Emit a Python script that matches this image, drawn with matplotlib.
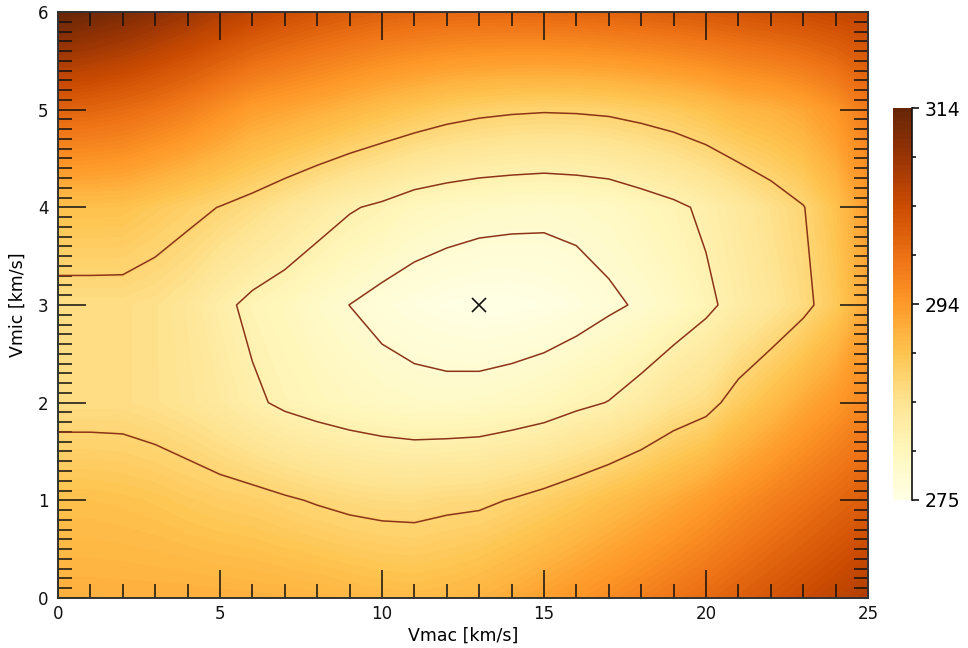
import numpy as np
import matplotlib
matplotlib.use("Agg")
import matplotlib.pyplot as plt
from matplotlib.ticker import MultipleLocator, FixedLocator

# fit grid: macroturbulence (x) and microturbulence (y), km/s
vmac = [0, 1, 2, 3, 4, 5, 6, 7, 8, 9, 10, 11, 12, 13, 14, 15, 16, 17, 18, 19, 20, 21, 22, 23, 24, 25]
vmic = [0, 1, 2, 3, 4, 5, 6]

# chi2 along vmac, one list per vmic row
chi2_vmic0 = [292.0, 292.0, 292.0, 292.0, 292.0, 291.9, 291.8, 291.6, 291.4, 291.0, 290.7, 290.5, 290.8,
              291.5, 292.5, 293.6, 294.8, 296.0, 297.3, 298.7, 300.0, 301.4, 302.8, 304.2, 305.6, 307.0]
chi2_vmic1 = [289.8, 289.8, 289.56, 289.2, 288.6, 288.1, 287.76, 287.15, 286.56, 286.06, 285.76, 285.7, 286.08,
              286.25, 286.95, 287.8, 288.8, 290.0, 291.2, 292.5, 294.0, 295.7, 297.3, 298.8, 300.3, 301.8]
chi2_vmic2 = [285.5, 285.5, 285.5, 285.0, 284.3, 283.2, 281.76, 280.62, 279.9, 279.3, 278.8, 278.43, 278.34,
              278.48, 278.93, 279.49, 280.49, 281.3, 282.7, 284.5, 285.6, 288.2, 290.2, 292.5, 294.5, 296.5]
chi2_vmic3 = [285.5, 285.5, 285.5, 285.0, 283.95, 282.0, 280.43, 279.5, 278.3, 277.28, 276.3, 275.6, 275.1,
              274.8, 274.85, 275.2, 275.8, 276.8, 277.65, 278.9, 280.5, 282.39, 284.0, 285.9, 288.6, 292.8]
chi2_vmic4 = [289.8, 289.8, 289.7, 288.67, 287.7, 286.7, 285.6, 284.2, 282.8, 281.5, 280.64, 279.46, 278.87,
              278.45, 278.22, 278.04, 278.27, 278.66, 279.61, 280.55, 281.8, 283.3, 285.0, 286.65, 289.65, 294.0]
chi2_vmic5 = [301.0, 300.6, 299.9, 298.8, 297.4, 295.6, 293.8, 293.0, 292.1, 291.1, 290.0, 289.1, 288.2,
              287.6, 287.25, 287.07, 287.16, 287.41, 287.97, 288.67, 289.6, 290.9, 291.6, 292.8, 294.8, 298.0]
chi2_vmic6 = [314.0, 313.0, 311.8, 310.3, 308.7, 307.0, 305.4, 304.0, 302.9, 302.0, 301.3, 300.8, 300.5,
              300.4, 300.4, 300.5, 300.7, 301.0, 301.4, 301.9, 302.4, 303.0, 303.6, 304.2, 304.9, 305.6]

# confidence contours and best fit
contour_levels = [277.3, 281.2, 286.8]
best_vmac = 13
best_vmic = 3

chi2 = np.array([chi2_vmic0, chi2_vmic1, chi2_vmic2, chi2_vmic3, chi2_vmic4, chi2_vmic5, chi2_vmic6])
zmin, zmax = chi2.min(), chi2.max()

fig = plt.figure(figsize=(9.68, 6.48), dpi=100)
ax = fig.add_axes([0.0599, 0.0772, 0.8368, 0.9043])

cf = ax.contourf(vmac, vmic, chi2, levels=np.linspace(zmin, zmax, 90), cmap="YlOrBr")
ax.contour(vmac, vmic, chi2, levels=contour_levels, colors="#8b3418", linewidths=1.1)
ax.plot(best_vmac, best_vmic, "x", color="#111111", ms=10, mew=1.2)

ax.set_xlim(0, 25)
ax.set_ylim(0, 6)
ax.xaxis.set_major_locator(MultipleLocator(5))
ax.xaxis.set_minor_locator(MultipleLocator(1))
ax.yaxis.set_major_locator(MultipleLocator(1))
ax.yaxis.set_minor_locator(MultipleLocator(0.1))
ax.tick_params(which="both", direction="in", top=True, right=True, colors="#111111", labelcolor="#111111")
ax.tick_params(which="major", length=20, width=1.1, labelsize=12)
ax.tick_params(which="minor", length=10, width=1.1)
ax.tick_params(axis="x", pad=5)
ax.tick_params(axis="y", pad=7)
for s in ax.spines.values():
    s.set_linewidth(1.4)
    s.set_color("#333333")

ax.set_xlabel("Vmac [km/s]", fontsize=12.5, labelpad=3)
ax.set_ylabel("Vmic [km/s]", fontsize=12.5, labelpad=8)

# colorbar
cax = fig.add_axes([0.9225, 0.2284, 0.0196, 0.6049])
cb = fig.colorbar(cf, cax=cax)
cb.outline.set_visible(False)
mid = (zmin + zmax) / 2
cb.set_ticks([zmin, mid, zmax])
cb.set_ticklabels(["%.0f" % zmin, "%d" % mid, "%.0f" % zmax])
cb.minorlocator = FixedLocator(np.linspace(zmin, zmax, 9))
cax.tick_params(which="major", length=5, width=1.1, labelsize=13.5, direction="out", pad=4)
cax.tick_params(which="minor", length=3, width=1.1, direction="out")
cax.plot([1, 1], [0, 1], transform=cax.transAxes, color="#111111", lw=1.2, clip_on=False)

fig.savefig("out.png", dpi=100)
